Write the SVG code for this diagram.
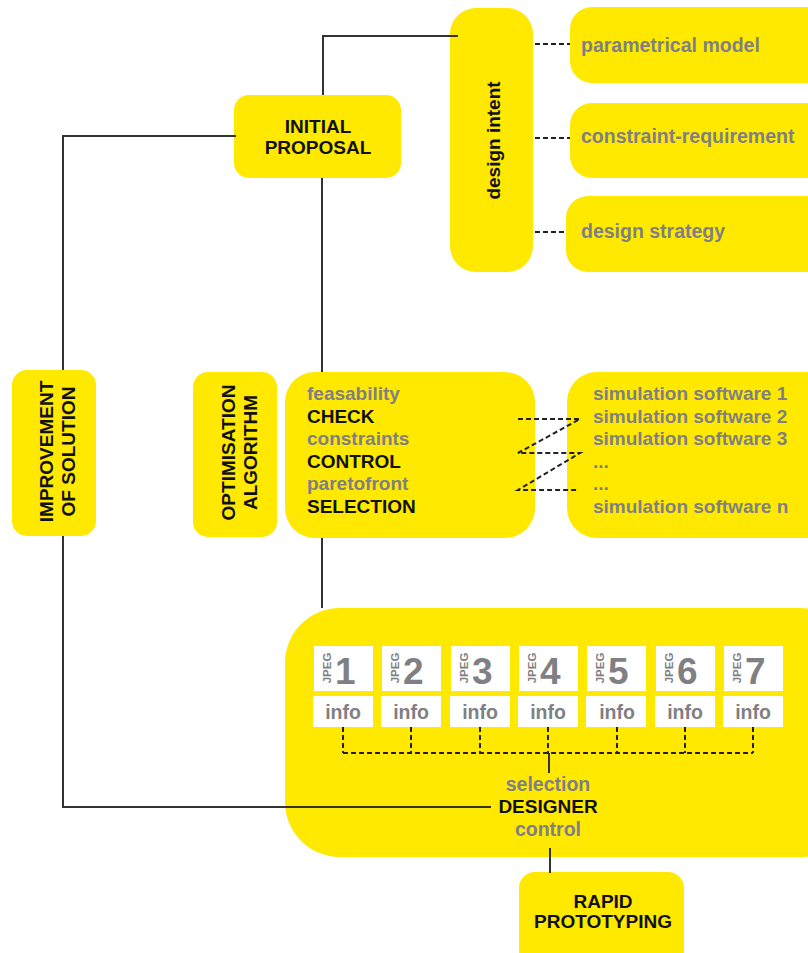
<svg xmlns="http://www.w3.org/2000/svg" width="808" height="953" viewBox="0 0 808 953">
  <style>
    .box { fill: #ffe900; }
    .card { fill: #ffffff; }
    .title { font-family: "Liberation Sans", Arial, sans-serif; font-weight: bold; font-size: 19px; fill: #111111; }
    .grey { font-family: "Liberation Sans", Arial, sans-serif; font-weight: bold; font-size: 19.5px; fill: #7f7f84; }
    .sim { font-family: "Liberation Sans", Arial, sans-serif; font-weight: bold; font-size: 19px; fill: #7f7f84; }
    .num { font-family: "Liberation Sans", Arial, sans-serif; font-weight: bold; font-size: 37px; fill: #7f7f84; }
    .jpeg { font-family: "Liberation Sans", Arial, sans-serif; font-weight: bold; font-size: 11.5px; fill: #7f7f84; }
    .wire { fill: none; stroke: #333333; stroke-width: 2; }
    .dash { fill: none; stroke: #222222; stroke-width: 2; stroke-dasharray: 5 3; }
  </style>

  <!-- design intent and its parts -->
  <g id="design-intent">
    <rect class="box" x="450" y="8" width="83" height="264" rx="26"/>
    <text class="title" transform="translate(500,140.5) rotate(-90)" text-anchor="middle" font-size="19.5">design intent</text>
  </g>
  <g id="parametrical-model">
    <rect class="box" x="570" y="7" width="268" height="76" rx="22"/>
    <text class="grey" x="581" y="52">parametrical model</text>
  </g>
  <g id="constraint-requirement">
    <rect class="box" x="570" y="103" width="268" height="75" rx="22"/>
    <text class="grey" x="581" y="143">constraint-requirement</text>
  </g>
  <g id="design-strategy">
    <rect class="box" x="566" y="196" width="272" height="76" rx="22"/>
    <text class="grey" x="581" y="238">design strategy</text>
  </g>

  <!-- initial proposal -->
  <g id="initial-proposal">
    <rect class="box" x="234" y="95" width="167" height="83" rx="15"/>
    <text class="title" x="318" y="133" text-anchor="middle">INITIAL</text>
    <text class="title" x="318" y="154" text-anchor="middle">PROPOSAL</text>
  </g>

  <!-- improvement of solution -->
  <g id="improvement">
    <rect class="box" x="12" y="370" width="84" height="166" rx="15"/>
    <text class="title" transform="translate(53,451.5) rotate(-90)" text-anchor="middle" font-size="19.7">IMPROVEMENT</text>
    <text class="title" transform="translate(75,451.5) rotate(-90)" text-anchor="middle" font-size="19.7">OF SOLUTION</text>
  </g>

  <!-- optimisation algorithm -->
  <g id="optimisation">
    <rect class="box" x="193" y="372" width="84" height="165" rx="15"/>
    <text class="title" transform="translate(235,452.5) rotate(-90)" text-anchor="middle">OPTIMISATION</text>
    <text class="title" transform="translate(257,452.5) rotate(-90)" text-anchor="middle">ALGORITHM</text>
  </g>

  <!-- check / control / selection -->
  <g id="evaluation">
    <rect class="box" x="285" y="372" width="250" height="166" rx="30"/>
    <text class="sim" x="307" y="400">feasability</text>
    <text class="title" x="307" y="423">CHECK</text>
    <text class="sim" x="307" y="445">constraints</text>
    <text class="title" x="307" y="468">CONTROL</text>
    <text class="sim" x="307" y="490">paretofront</text>
    <text class="title" x="307" y="513">SELECTION</text>
  </g>

  <!-- simulation software -->
  <g id="simulation">
    <rect class="box" x="567" y="372" width="271" height="166" rx="30"/>
    <text class="sim" x="593" y="400">simulation software 1</text>
    <text class="sim" x="593" y="422.6">simulation software 2</text>
    <text class="sim" x="593" y="445.2">simulation software 3</text>
    <text class="sim" x="593" y="467.8">...</text>
    <text class="sim" x="593" y="490.4">...</text>
    <text class="sim" x="593" y="513">simulation software n</text>
  </g>

  <!-- designer with candidate images -->
  <g id="designer">
    <rect class="box" x="285" y="608" width="570" height="249" rx="55"/>
    <g id="candidates">
      <rect class="card" x="314" y="646" width="59" height="45"/>
      <rect class="card" x="313" y="696" width="60" height="31"/>
      <text class="jpeg" transform="translate(331,668) rotate(-90)" text-anchor="middle">JPEG</text>
      <text class="num" x="335" y="684">1</text>
      <text class="grey" x="343" y="719" text-anchor="middle">info</text>

      <rect class="card" x="382" y="646" width="59" height="45"/>
      <rect class="card" x="381" y="696" width="60" height="31"/>
      <text class="jpeg" transform="translate(399,668) rotate(-90)" text-anchor="middle">JPEG</text>
      <text class="num" x="403" y="684">2</text>
      <text class="grey" x="411" y="719" text-anchor="middle">info</text>

      <rect class="card" x="451" y="646" width="59" height="45"/>
      <rect class="card" x="450" y="696" width="60" height="31"/>
      <text class="jpeg" transform="translate(468,668) rotate(-90)" text-anchor="middle">JPEG</text>
      <text class="num" x="472" y="684">3</text>
      <text class="grey" x="480" y="719" text-anchor="middle">info</text>

      <rect class="card" x="519" y="646" width="59" height="45"/>
      <rect class="card" x="518" y="696" width="60" height="31"/>
      <text class="jpeg" transform="translate(536,668) rotate(-90)" text-anchor="middle">JPEG</text>
      <text class="num" x="540" y="684">4</text>
      <text class="grey" x="548" y="719" text-anchor="middle">info</text>

      <rect class="card" x="587" y="646" width="59" height="45"/>
      <rect class="card" x="586" y="696" width="60" height="31"/>
      <text class="jpeg" transform="translate(604,668) rotate(-90)" text-anchor="middle">JPEG</text>
      <text class="num" x="608" y="684">5</text>
      <text class="grey" x="617" y="719" text-anchor="middle">info</text>

      <rect class="card" x="656" y="646" width="59" height="45"/>
      <rect class="card" x="655" y="696" width="60" height="31"/>
      <text class="jpeg" transform="translate(673,668) rotate(-90)" text-anchor="middle">JPEG</text>
      <text class="num" x="677" y="684">6</text>
      <text class="grey" x="685" y="719" text-anchor="middle">info</text>

      <rect class="card" x="724" y="646" width="59" height="45"/>
      <rect class="card" x="723" y="696" width="60" height="31"/>
      <text class="jpeg" transform="translate(741,668) rotate(-90)" text-anchor="middle">JPEG</text>
      <text class="num" x="745" y="684">7</text>
      <text class="grey" x="753" y="719" text-anchor="middle">info</text>
    </g>
    <text class="grey" x="548" y="791" text-anchor="middle">selection</text>
    <text class="title" x="548" y="813" text-anchor="middle">DESIGNER</text>
    <text class="grey" x="548" y="836" text-anchor="middle">control</text>
  </g>

  <!-- rapid prototyping -->
  <g id="rapid-prototyping">
    <rect class="box" x="519" y="872" width="165" height="95" rx="16"/>
    <text class="title" x="603" y="908" text-anchor="middle">RAPID</text>
    <text class="title" x="603" y="928" text-anchor="middle">PROTOTYPING</text>
  </g>

  <!-- connectors, drawn over the boxes -->
  <g id="connectors">
    <polyline class="wire" points="323,95 323,36 458,36"/>
    <polyline class="wire" points="236,136 63,136 63,370"/>
    <line class="wire" x1="322" y1="178" x2="322" y2="372"/>
    <line class="wire" x1="322" y1="538" x2="322" y2="608"/>
    <polyline class="wire" points="63,536 63,807 491,807"/>
    <line class="wire" x1="549" y1="753" x2="549" y2="773"/>
    <line class="wire" x1="550" y1="848" x2="550" y2="873"/>
    <line class="dash" x1="535" y1="44" x2="570" y2="44"/>
    <line class="dash" x1="535" y1="138" x2="570" y2="138"/>
    <line class="dash" x1="535" y1="232" x2="566" y2="232"/>
    <polyline class="dash" points="518,419 580,419 518,453 580,453 518,490 578,490"/>
    <!-- dashed gathering lines from each info card -->
    <path class="dash" d="M343,727 V753 M411,727 V753 M480,727 V753 M548,727 V753 M617,727 V753 M685,727 V753 M753,727 V753 M343,753 H753"/>
  </g>
</svg>
